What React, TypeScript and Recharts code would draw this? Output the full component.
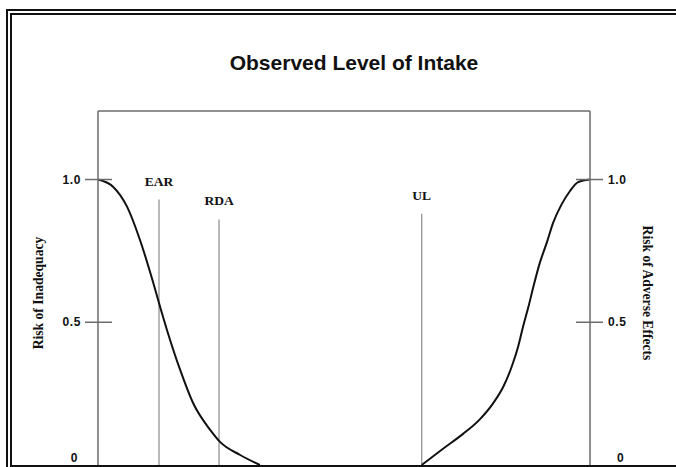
import { Line, LineChart, ReferenceLine, XAxis, YAxis } from 'recharts'

const W = 676
const H = 467

const SANS = '"Liberation Sans", Arial, sans-serif'
const SERIF = '"Liberation Serif", "Times New Roman", serif'
const AXIS = '#6b6b6b'
const MARK = '#8a8a8a'
const INK = '#111'

// eje x: nivel de ingesta (escala esquemática 0–100), eje y: riesgo 0–1
const INTAKE_DOMAIN = [0, 100]
const RISK_DOMAIN = [0, 1.24]
const RISK_TICKS = [0, 0.5, 1]
const RISK_TICK_LABELS = ['0', '0.5', '1.0']

// curva de riesgo de insuficiencia
const INADEQUACY_INTAKE = [0, 3.05, 5.9, 8.5, 11.2, 12.6, 14.0, 16.7, 19.3, 22.8, 24.8, 28.9, 32.9]
const INADEQUACY_RISK = [1.0, 0.975, 0.905, 0.79, 0.64, 0.555, 0.474, 0.333, 0.218, 0.123, 0.081, 0.035, 0]

// curva de riesgo de efectos adversos
const ADVERSE_INTAKE = [65.8, 70.2, 74.2, 77.6, 80.3, 82.4, 84.1, 85.4, 86.4, 87.5, 88.5, 89.8, 91.2, 92.5, 94.2, 95.9, 97.6, 100]
const ADVERSE_RISK = [0, 0.058, 0.109, 0.16, 0.216, 0.275, 0.345, 0.415, 0.485, 0.555, 0.625, 0.708, 0.778, 0.848, 0.912, 0.959, 0.991, 1.0]

// EAR / RDA / UL
const MARKER_NAMES = ['EAR', 'RDA', 'UL']
const MARKER_INTAKE = [12.4, 24.6, 65.8]
const MARKER_TOP = [0.93, 0.86, 0.88]

const inadequacy = INADEQUACY_INTAKE.map((x, i) => ({ intake: x, risk: INADEQUACY_RISK[i] }))
const adverse = ADVERSE_INTAKE.map((x, i) => ({ intake: x, risk: ADVERSE_RISK[i] }))

interface TickProps {
  x?: number
  y?: number
  payload?: { value: number }
  side: 'left' | 'right'
}

function RiskTick({ x = 0, y = 0, payload, side }: TickProps) {
  const v = payload?.value ?? 0
  const label = RISK_TICK_LABELS[RISK_TICKS.indexOf(v)]
  const left = side === 'left'
  const textStyle = { fontFamily: SANS, fontSize: 12, fontWeight: 700, letterSpacing: 0.6, fill: INK }
  if (v === 0) {
    return (
      <text x={left ? x - 20 : x + 27} y={y - 3} textAnchor={left ? 'end' : 'start'} style={textStyle}>
        {label}
      </text>
    )
  }
  return (
    <g>
      <line
        x1={left ? x - 13 : x - 14}
        x2={left ? x + 14 : x + 13}
        y1={y}
        y2={y}
        stroke={AXIS}
        strokeWidth={1.5}
      />
      <text x={left ? x - 17 : x + 18} y={y + 4} textAnchor={left ? 'end' : 'start'} style={textStyle}>
        {label}
      </text>
    </g>
  )
}

interface VB {
  viewBox?: { x: number; y: number; width: number; height: number }
}

function SideTitle({ viewBox, text, side }: VB & { text: string; side: 'left' | 'right' }) {
  if (!viewBox) return null
  const cx = side === 'left' ? viewBox.x : viewBox.x + viewBox.width - 3
  const cy = viewBox.y + viewBox.height / 2 + 5
  return (
    <text
      x={cx}
      y={cy}
      transform={`rotate(${side === 'left' ? -90 : 90} ${cx} ${cy})`}
      textAnchor="middle"
      dominantBaseline="central"
      style={{ fontFamily: SERIF, fontSize: 13.6, fontWeight: 700, fill: INK }}
    >
      {text}
    </text>
  )
}

export default function App() {
  return (
    <div
      style={{
        position: 'absolute',
        left: 0,
        top: 0,
        width: W,
        height: H,
        overflow: 'hidden',
        background: '#fff',
      }}
    >
      {/* marco doble */}
      <div
        style={{
          position: 'absolute',
          left: 6,
          top: 9,
          width: 720,
          height: 500,
          borderLeft: `6px double ${INK}`,
          borderTop: `6px double ${INK}`,
          boxSizing: 'border-box',
        }}
      />
      <div style={{ position: 'absolute', left: 12, top: 465, width: 700, height: 2, background: INK }} />
      <div
        style={{
          position: 'absolute',
          left: 0,
          top: 50,
          width: 708,
          textAlign: 'center',
          fontFamily: SANS,
          fontWeight: 700,
          fontSize: 21,
          lineHeight: '26px',
          color: INK,
        }}
      >
        Observed Level of Intake
      </div>

      <div style={{ position: 'absolute', left: 0, top: 0 }}>
        <LineChart width={W} height={H} margin={{ top: 111, right: 26, bottom: 2, left: 38 }}>
          <XAxis
            xAxisId="bottom"
            dataKey="intake"
            type="number"
            domain={INTAKE_DOMAIN}
            height={0}
            tick={false}
            tickLine={false}
            axisLine={false}
          />
          <YAxis
            yAxisId="left"
            type="number"
            domain={RISK_DOMAIN}
            ticks={RISK_TICKS}
            interval={0}
            width={60}
            tickSize={0}
            tickMargin={0}
            tickLine={false}
            axisLine={{ stroke: AXIS, strokeWidth: 1.5 }}
            tick={(p: any) => <RiskTick {...p} side="left" />}
            label={{ content: (p: any) => <SideTitle {...p} text="Risk of Inadequacy" side="left" /> }}
          />
          <YAxis
            yAxisId="right"
            orientation="right"
            type="number"
            domain={RISK_DOMAIN}
            ticks={RISK_TICKS}
            interval={0}
            width={60}
            tickSize={0}
            tickMargin={0}
            tickLine={false}
            axisLine={{ stroke: AXIS, strokeWidth: 1.5 }}
            tick={(p: any) => <RiskTick {...p} side="right" />}
            label={{ content: (p: any) => <SideTitle {...p} text="Risk of Adverse Effects" side="right" /> }}
          />

          {/* borde superior del área de trazado */}
          <ReferenceLine xAxisId="bottom" yAxisId="left" y={RISK_DOMAIN[1]} stroke={AXIS} strokeWidth={1.5} />

          {MARKER_NAMES.map((name, i) => (
            <ReferenceLine
              key={name}
              xAxisId="bottom"
              yAxisId="left"
              segment={[
                { x: MARKER_INTAKE[i], y: 0 },
                { x: MARKER_INTAKE[i], y: MARKER_TOP[i] },
              ]}
              stroke={MARK}
              strokeWidth={1.2}
              label={{
                value: name,
                position: 'top',
                offset: 14,
                style: { fontFamily: SERIF, fontSize: 13.5, fontWeight: 700, fill: INK },
              }}
            />
          ))}

          <Line
            xAxisId="bottom"
            yAxisId="left"
            data={inadequacy}
            dataKey="risk"
            type="monotone"
            stroke={INK}
            strokeWidth={2}
            dot={false}
            isAnimationActive={false}
          />
          <Line
            xAxisId="bottom"
            yAxisId="right"
            data={adverse}
            dataKey="risk"
            type="monotone"
            stroke={INK}
            strokeWidth={2}
            dot={false}
            isAnimationActive={false}
          />
        </LineChart>
      </div>
    </div>
  )
}
